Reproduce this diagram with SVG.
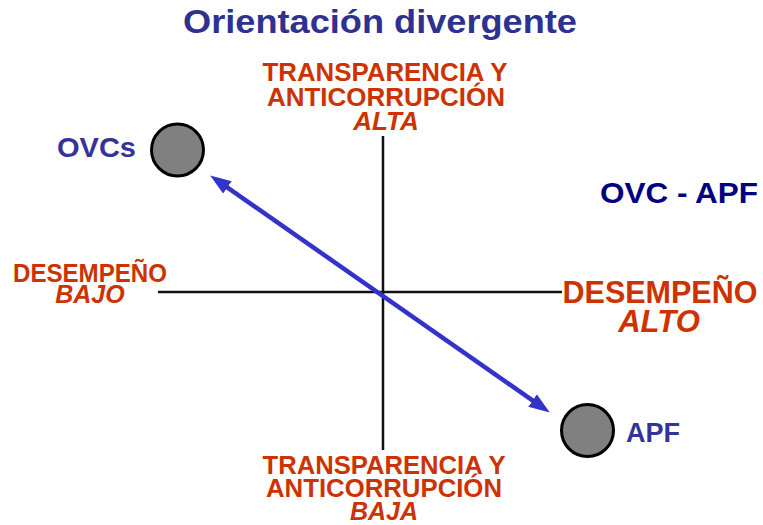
<svg xmlns="http://www.w3.org/2000/svg" width="763" height="525" viewBox="0 0 763 525">
  <style>
    text { font-family: "Liberation Sans", Arial, sans-serif; font-weight: bold; }
    .title { fill: #2e3192; font-size: 33px; }
    .red { fill: #cc3300; }
    .blue { fill: #333399; font-size: 27px; }
    .navy { fill: #000080; font-size: 30px; }
    .axis { stroke: #111; stroke-width: 2.5; }
    .node { fill: #808080; stroke: #000; stroke-width: 3; }
    .arrow { stroke: #3333cc; stroke-width: 4.5; fill: none; }
  </style>
  <defs>
    <marker id="ah" markerUnits="userSpaceOnUse" markerWidth="22" markerHeight="16" refX="5" refY="7.5" orient="auto-start-reverse" viewBox="0 0 22 16">
      <path d="M0,0 L21,7.5 L0,15 z" fill="#3333cc"/>
    </marker>
  </defs>
  <rect width="763" height="525" fill="#fff"/>
  <text class="title" x="380" y="33" text-anchor="middle" textLength="394" lengthAdjust="spacingAndGlyphs">Orientación divergente</text>

  <g id="axes">
    <line class="axis" x1="383" y1="136" x2="383" y2="450"/>
    <line class="axis" x1="158" y1="292" x2="562" y2="292"/>
  </g>

  <g id="label-top" class="red" font-size="26">
    <text x="385" y="81" text-anchor="middle" textLength="245" lengthAdjust="spacingAndGlyphs">TRANSPARENCIA Y</text>
    <text x="386" y="106" text-anchor="middle" textLength="238" lengthAdjust="spacingAndGlyphs">ANTICORRUPCIÓN</text>
    <text x="386" y="130" text-anchor="middle" font-style="italic">ALTA</text>
  </g>
  <g id="label-bottom" class="red" font-size="25">
    <text x="384" y="474" text-anchor="middle" textLength="243" lengthAdjust="spacingAndGlyphs">TRANSPARENCIA Y</text>
    <text x="384" y="497" text-anchor="middle" textLength="236" lengthAdjust="spacingAndGlyphs">ANTICORRUPCIÓN</text>
    <text x="384" y="520" text-anchor="middle" font-style="italic">BAJA</text>
  </g>
  <g id="label-left" class="red" font-size="25">
    <text x="90" y="282" text-anchor="middle" textLength="154" lengthAdjust="spacingAndGlyphs">DESEMPEÑO</text>
    <text x="90" y="303" text-anchor="middle" font-style="italic">BAJO</text>
  </g>
  <g id="label-right" class="red" font-size="31">
    <text x="660" y="303" text-anchor="middle" textLength="195" lengthAdjust="spacingAndGlyphs">DESEMPEÑO</text>
    <text x="659" y="332" text-anchor="middle" font-style="italic">ALTO</text>
  </g>
  <g id="label-ovc-apf">
    <text class="navy" x="679" y="203" text-anchor="middle" textLength="158" lengthAdjust="spacingAndGlyphs">OVC - APF</text>
  </g>

  <g id="connectors">
    <line class="arrow" x1="223.3" y1="184.6" x2="536.7" y2="403.4" marker-start="url(#ah)" marker-end="url(#ah)"/>
  </g>

  <g id="node-ovcs">
    <circle class="node" cx="177.5" cy="150" r="26"/>
    <text class="blue" x="136" y="157" text-anchor="end" textLength="79" lengthAdjust="spacingAndGlyphs">OVCs</text>
  </g>
  <g id="node-apf">
    <circle class="node" cx="587.5" cy="430.5" r="26"/>
    <text class="blue" x="626" y="442">APF</text>
  </g>
</svg>
